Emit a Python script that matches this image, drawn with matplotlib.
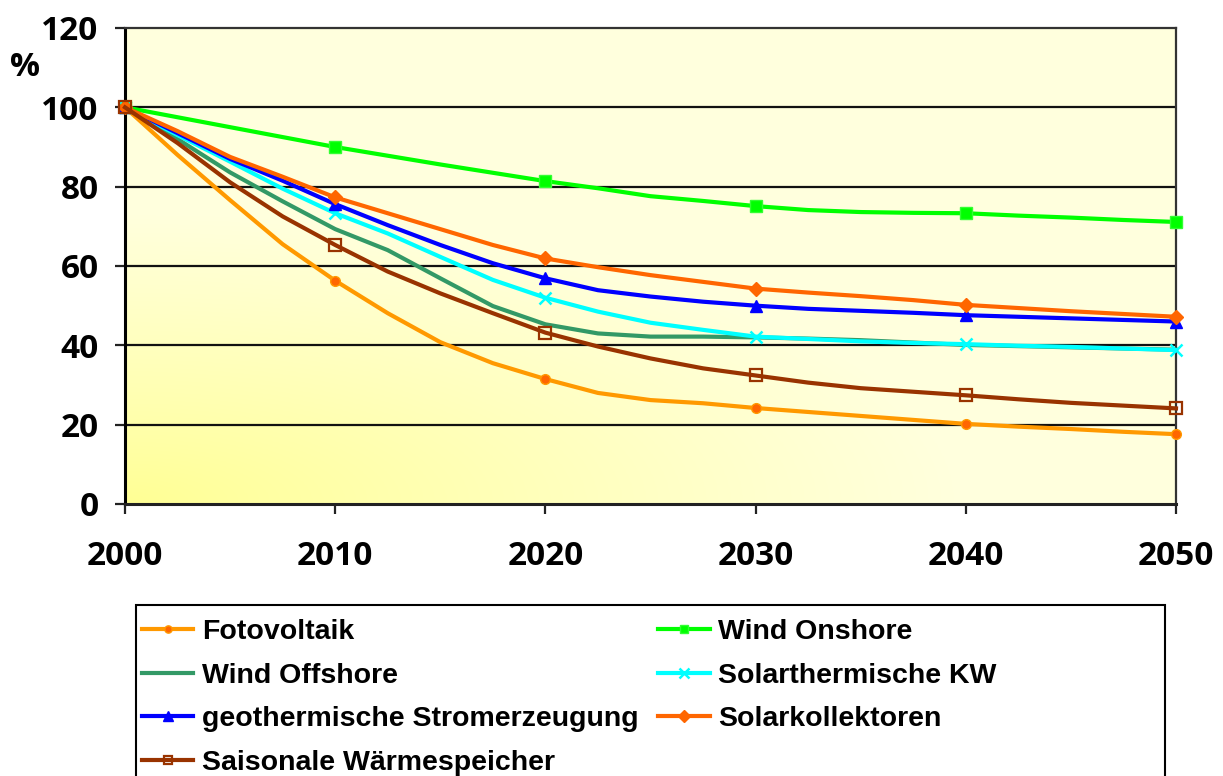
import numpy as np
import matplotlib
matplotlib.use("Agg")
import matplotlib.pyplot as plt
from matplotlib.patches import Rectangle

years = [2000, 2002.5, 2005, 2007.5, 2010, 2012.5, 2015, 2017.5, 2020, 2022.5, 2025, 2027.5,
         2030, 2032.5, 2035, 2037.5, 2040, 2042.5, 2045, 2047.5, 2050]

fotovoltaik = [100, 88, 76.6, 65.5, 56.3, 48.1, 40.8, 35.5, 31.5, 28.0, 26.2, 25.4,
               24.2, 23.2, 22.2, 21.2, 20.2, 19.5, 18.9, 18.2, 17.6]
wind_onshore = [100, 97.5, 95.0, 92.5, 90.0, 87.8, 85.6, 83.5, 81.4, 79.6, 77.6, 76.4,
                75.1, 74.1, 73.6, 73.4, 73.3, 72.7, 72.2, 71.6, 71.1]
wind_offshore = [100, 92, 83.6, 76.3, 69.3, 64.0, 56.9, 49.9, 45.3, 43.0, 42.2, 42.2,
                 42.0, 41.7, 41.3, 40.7, 40.1, 39.8, 39.5, 39.2, 38.9]
solarthermische = [100, 93, 86.3, 79.5, 73.3, 68.2, 62.3, 56.5, 52.0, 48.5, 45.7, 43.9,
                   42.2, 41.6, 41.0, 40.6, 40.3, 39.9, 39.6, 39.2, 38.8]
geothermie = [100, 93.5, 87.0, 81.5, 75.6, 70.3, 65.3, 60.7, 56.9, 53.9, 52.3, 51.0,
              50.0, 49.2, 48.7, 48.2, 47.6, 47.2, 46.8, 46.4, 46.0]
solarkollektoren = [100, 94, 87.5, 82.5, 77.3, 73.3, 69.3, 65.3, 61.9, 59.7, 57.7, 56.0,
                    54.3, 53.3, 52.4, 51.4, 50.2, 49.4, 48.6, 47.9, 47.2]
saisonal = [100, 91, 81.1, 72.5, 65.3, 58.6, 53.1, 48.1, 43.2, 39.7, 36.7, 34.2,
            32.4, 30.6, 29.2, 28.3, 27.4, 26.4, 25.5, 24.8, 24.1]

names = ["Fotovoltaik", "Wind Onshore", "Wind Offshore", "Solarthermische KW",
         "geothermische Stromerzeugung", "Solarkollektoren", "Saisonale Wärmespeicher"]
x_ticks = [2000, 2010, 2020, 2030, 2040, 2050]
y_ticks = [0, 20, 40, 60, 80, 100, 120]

fig = plt.figure(figsize=(12.23, 7.76), dpi=100)
ax = fig.add_axes([125/1223, 1-504/776, (1176-125)/1223, (504-28)/776])

# gradient background
nx, ny = 300, 200
xf = np.linspace(0, 1, nx)[None, :]
yf = np.linspace(0, 1, ny)[:, None]
t = np.clip(np.sqrt((xf*1.0)**2 + (yf*1.3)**2) / 0.8, 0, 1) ** 0.9
c0 = np.array([1.0, 1.0, 0.58])
c1 = np.array([1.0, 1.0, 0.87])
img = c0[None, None, :] * (1 - t[..., None]) + c1[None, None, :] * t[..., None]
ax.imshow(img, extent=[2000, 2050, 0, 120], origin="lower", aspect="auto", zorder=0)

ax.set_xlim(2000, 2050)
ax.set_ylim(0, 120)
for yv in y_ticks[1:-1]:
    ax.axhline(yv, color="#111111", lw=1.6, zorder=1)

lw = 3.0
styles = [
    dict(color="#FF9900", marker="o", ms=7, mfc="#FF6600", mec="#FF9900", mew=1),
    dict(color="#00FF00", marker="s", ms=8.5, mfc="#00FF00", mec="#33FF33", mew=1),
    dict(color="#339966", marker=None),
    dict(color="#00FFFF", marker="x", ms=9, mec="#00FFFF", mew=1.8),
    dict(color="#0000FF", marker="^", ms=9, mfc="#0000FF", mec="#0000FF", mew=1),
    dict(color="#FF6600", marker="D", ms=7.5, mfc="#FF6600", mec="#FF6600", mew=1),
    dict(color="#993300", marker="s", ms=8, mfc="none", mec="#993300", mew=1.6),
]
series = [fotovoltaik, wind_onshore, wind_offshore, solarthermische, geothermie,
          solarkollektoren, saisonal]
handles = []
for name, vals, st in zip(names, series, styles):
    h, = ax.plot(years, vals, lw=lw, label=name, markevery=4, clip_on=False, zorder=3,
                 solid_joinstyle="round", **st)
    handles.append(h)

# spines
ax.spines["left"].set_color("black"); ax.spines["left"].set_linewidth(2.2)
ax.spines["bottom"].set_color("#222222"); ax.spines["bottom"].set_linewidth(2.2)
ax.spines["top"].set_color("#333333"); ax.spines["top"].set_linewidth(1.6)
ax.spines["right"].set_color("#333333"); ax.spines["right"].set_linewidth(1.6)
for s in ax.spines.values():
    s.set_zorder(2)

tick_font = dict(family="Open Sans", weight="bold", size=24)
ax.set_yticks(y_ticks)
ax.set_yticklabels([str(v) for v in y_ticks], fontdict=tick_font)
ax.set_xticks(x_ticks)
ax.set_xticklabels([str(v) for v in x_ticks], fontdict=tick_font)
ax.tick_params(axis="y", direction="out", length=7, width=1.6, pad=12, color="#222222")
ax.tick_params(axis="x", direction="out", length=7, width=1.6, pad=19, color="#222222")

fig.text(10/1223, 1-68/776, "%", ha="left", va="center", **tick_font)

# legend
order = [0, 2, 4, 6, 1, 3, 5]
leg = fig.legend([handles[i] for i in order], [names[i] for i in order],
                 ncol=2, loc="upper left", bbox_to_anchor=(142/1223, 1-619/776),
                 frameon=False, borderpad=0, borderaxespad=0,
                 prop=dict(family="Liberation Sans", weight="bold", size=20.5),
                 handlelength=1.8, handletextpad=0.3, columnspacing=0.7,
                 labelspacing=0.62, markerscale=0.75)
fig.patches.append(Rectangle((136/1223, 1-800/776), (1165-136)/1223, (800-605)/776,
                             transform=fig.transFigure, fill=False, ec="black", lw=1.5))

fig.savefig("out.png", dpi=100)
